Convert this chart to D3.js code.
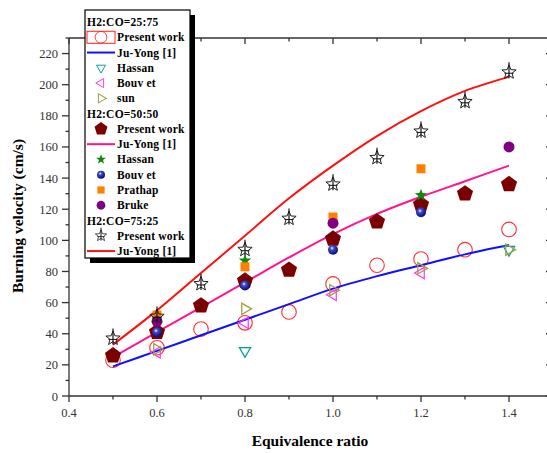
<!DOCTYPE html>
<html><head><meta charset="utf-8">
<script src="https://cdn.jsdelivr.net/npm/d3@7"></script>
<style>body{margin:0;background:#fff}svg{display:block}</style>
</head><body>
<script>
// ---------- data ----------
const phi = [0.5,0.6,0.7,0.8,0.9,1.0,1.1,1.2,1.3,1.4];
const pw2575 = [23,31,43,47,54,72,84,88,94,107];
const jy2575 = [19,29,39,49,59,69,77,84,91,97];
const hassan2575_x = [0.8,1.4], hassan2575_y = [29,94];
const bouvet2575_x = [0.6,0.8,1.0,1.2], bouvet2575_y = [28,47,65,79];
const sun2575_x = [0.6,0.8,1.0,1.2,1.4], sun2575_y = [30,56,68,82,94];
const pw5050 = [26,41,58,74,81,101,112,123,130,136];
const jy5050 = [25,41,57,73,89,104,117,128,138,148];
const hassan5050_x = [0.8,1.2], hassan5050_y = [87,129];
const bouvet5050_x = [0.6,0.8,1.0,1.2], bouvet5050_y = [41,71,94,118];
const prathap_x = [0.6,0.8,1.0,1.2], prathap_y = [52,83,115,146];
const bruke_x = [0.6,1.0,1.4], bruke_y = [48,111,160];
const pw7525 = [37,51,72,94,114,136,153,170,189,208];
const jy7525 = [33,55,79,103,127,148,167,183,196,205];
const xTickVals = [0.4,0.6,0.8,1.0,1.2,1.4];
const yTickVals = [0,20,40,60,80,100,120,140,160,180,200,220];

// ---------- layout ----------
const W=547,H=453;
const L=69,R=553,T=38,B=396;
const x=d3.scaleLinear().domain([0.4,1.5]).range([L,R]);
const y=d3.scaleLinear().domain([0,230]).range([B,T]);
const svg=d3.select("body").append("svg").attr("width",W).attr("height",H);
const defs=svg.append("defs");
const g1=defs.append("radialGradient").attr("id","sph").attr("cx","40%").attr("cy","35%").attr("r","65%");
g1.append("stop").attr("offset","0%").attr("stop-color","#ffffff");
g1.append("stop").attr("offset","30%").attr("stop-color","#3b4bd0");
g1.append("stop").attr("offset","100%").attr("stop-color","#0a0a70");

const serif='"Liberation Serif","Times New Roman",serif';
const ax=svg.append("g").attr("stroke","#333").attr("stroke-width",1.3);
ax.append("line").attr("x1",L).attr("x2",R).attr("y1",B).attr("y2",B);
ax.append("line").attr("x1",L).attr("x2",R).attr("y1",T).attr("y2",T);
ax.append("line").attr("x1",L).attr("x2",L).attr("y1",T).attr("y2",B);
ax.append("line").attr("x1",R).attr("x2",R).attr("y1",T).attr("y2",B);
d3.range(0.4,1.5001,0.1).forEach((v,i)=>{
  const major = i%2===0, len = major?6:3.5, xx=x(v);
  ax.append("line").attr("x1",xx).attr("x2",xx).attr("y1",B).attr("y2",B+len);
  ax.append("line").attr("x1",xx).attr("x2",xx).attr("y1",T).attr("y2",T+len);
});
xTickVals.forEach(v=>{
  svg.append("text").attr("x",x(v)).attr("y",B+21).attr("text-anchor","middle")
    .attr("font-family",serif).attr("font-size",12.5).attr("fill","#333").text(v.toFixed(1));
});
d3.range(0,231,10).forEach(v=>{
  const major = v%20===0, len = major?7:3.5, yy=y(v);
  ax.append("line").attr("x1",L).attr("x2",L-len).attr("y1",yy).attr("y2",yy);
  ax.append("line").attr("x1",R).attr("x2",R-len).attr("y1",yy).attr("y2",yy);
});
yTickVals.forEach(v=>{
  svg.append("text").attr("x",L-11).attr("y",y(v)+4.5).attr("text-anchor","end")
    .attr("font-family",serif).attr("font-size",12.5).attr("fill","#333").text(v);
});
svg.append("text").attr("x",310).attr("y",446).attr("text-anchor","middle")
  .attr("font-family",serif).attr("font-weight","bold").attr("font-size",15.5).text("Equivalence ratio");
svg.append("text").attr("transform","translate(23,216) rotate(-90)").attr("text-anchor","middle")
  .attr("font-family",serif).attr("font-weight","bold").attr("font-size",15.5).text("Burning velocity (cm/s)");

// ---------- marker helpers ----------
function starPath(ro,ri){let p=[];for(let k=0;k<10;k++){const a=-Math.PI/2+k*Math.PI/5,r=k%2?ri:ro;p.push([r*Math.cos(a),r*Math.sin(a)]);}return "M"+p.map(d=>d.join(",")).join("L")+"Z";}
function polyPath(n,r,rot){let p=[];for(let k=0;k<n;k++){const a=rot+k*2*Math.PI/n;p.push([r*Math.cos(a),r*Math.sin(a)]);}return "M"+p.map(d=>d.join(",")).join("L")+"Z";}
const mk={
  circO:(s)=>s.append("circle").attr("r",7.3).attr("fill","none").attr("stroke","#ff3030").attr("stroke-width",1.1),
  triDown:(s)=>s.append("path").attr("d",polyPath(3,6.5,Math.PI/2)).attr("fill","none").attr("stroke","#00999a").attr("stroke-width",1.2),
  triLeft:(s)=>s.append("path").attr("d",polyPath(3,6.5,Math.PI)).attr("fill","none").attr("stroke","#ff30ff").attr("stroke-width",1.2),
  triRight:(s)=>s.append("path").attr("d",polyPath(3,6.5,0)).attr("fill","none").attr("stroke","#a0a040").attr("stroke-width",1.3),
  pent:(s)=>s.append("path").attr("d",polyPath(5,8.5,-Math.PI/2)).attr("fill","#7a0000"),
  gstar:(s)=>s.append("path").attr("d",starPath(6.5,2.7)).attr("fill","#0a8a0a"),
  sphere:(s)=>s.append("circle").attr("r",5).attr("fill","url(#sph)"),
  sq:(s)=>s.append("rect").attr("x",-4.5).attr("y",-4.5).attr("width",9).attr("height",9).attr("fill","#ff8000"),
  purp:(s)=>s.append("circle").attr("r",5.5).attr("fill","#800080"),
  bstar:(s)=>{s.append("path").attr("d",starPath(7.5,3.2)).attr("fill","none").attr("stroke","#222").attr("stroke-width",1);
    s.append("line").attr("x1",0).attr("x2",0).attr("y1",-10).attr("y2",6).attr("stroke","#111").attr("stroke-width",1.2);
    s.append("line").attr("x1",-4.5).attr("x2",4.5).attr("y1",1).attr("y2",1).attr("stroke","#111").attr("stroke-width",1);}
};
function scatter(xs,ys,type){
  xs.forEach((v,i)=>{const s=svg.append("g").attr("transform",`translate(${x(v)},${y(ys[i])})`);mk[type](s);});
}
const line=d3.line().x(d=>x(d[0])).y(d=>y(d[1])).curve(d3.curveCatmullRom);
function curve(vals,color){
  svg.append("path").datum(phi.map((p,i)=>[p,vals[i]])).attr("d",line).attr("fill","none").attr("stroke",color).attr("stroke-width",2);
}
scatter(phi,pw2575,"circO");
curve(jy2575,"#1010ff");
curve(jy5050,"#ff1493");
curve(jy7525,"#ff1010");
scatter(hassan2575_x,hassan2575_y,"triDown");
scatter(bouvet2575_x,bouvet2575_y,"triLeft");
scatter(sun2575_x,sun2575_y,"triRight");
scatter(phi,pw5050,"pent");
scatter(hassan5050_x,hassan5050_y,"gstar");
scatter(bouvet5050_x,bouvet5050_y,"sphere");
scatter(prathap_x,prathap_y,"sq");
scatter(bruke_x,bruke_y,"purp");
scatter(phi,pw7525,"bstar");

// ---------- legend ----------
const lg=svg.append("g");
const bx=85,by=10,bw=105,bh=248;
lg.append("rect").attr("x",bx+5).attr("y",by+5).attr("width",bw).attr("height",bh).attr("fill","#000");
lg.append("rect").attr("x",bx).attr("y",by).attr("width",bw).attr("height",bh).attr("fill","#fff").attr("stroke","#000").attr("stroke-width",1.2);
const rows=[
  {t:"H2:CO=25:75",h:true},
  {t:"Present work",m:"circO",box:true},
  {t:"Ju-Yong [1]",c:"#1010ff"},
  {t:"Hassan",m:"triDown"},
  {t:"Bouv et",m:"triLeft"},
  {t:"sun",m:"triRight"},
  {t:"H2:CO=50:50",h:true},
  {t:"Present work",m:"pent"},
  {t:"Ju-Yong [1]",c:"#ff1493"},
  {t:"Hassan",m:"gstar"},
  {t:"Bouv et",m:"sphere"},
  {t:"Prathap",m:"sq"},
  {t:"Bruke",m:"purp"},
  {t:"H2:CO=75:25",h:true},
  {t:"Present work",m:"bstar"},
  {t:"Ju-Yong [1]",c:"#ff1010"}
];
rows.forEach((r,i)=>{
  const yy=22+i*15.27;
  if(r.h){
    lg.append("text").attr("x",bx+2).attr("y",yy+4).attr("font-family",serif).attr("font-weight","bold").attr("font-size",11.5).attr("letter-spacing",0.2).text(r.t);
    return;
  }
  lg.append("text").attr("x",117).attr("y",yy+4).attr("font-family",serif).attr("font-weight","bold").attr("font-size",11.5).attr("letter-spacing",0.2).text(r.t);
  if(r.c){
    lg.append("line").attr("x1",87).attr("x2",115).attr("y1",yy).attr("y2",yy).attr("stroke",r.c).attr("stroke-width",2);
  } else {
    const s=lg.append("g").attr("transform",`translate(101,${yy}) scale(0.8)`);
    mk[r.m](s);
    if(r.box) lg.append("rect").attr("x",87).attr("y",yy-6).attr("width",28).attr("height",12).attr("fill","none").attr("stroke","#ff2020").attr("stroke-width",1);
  }
});
</script>
</body></html>
